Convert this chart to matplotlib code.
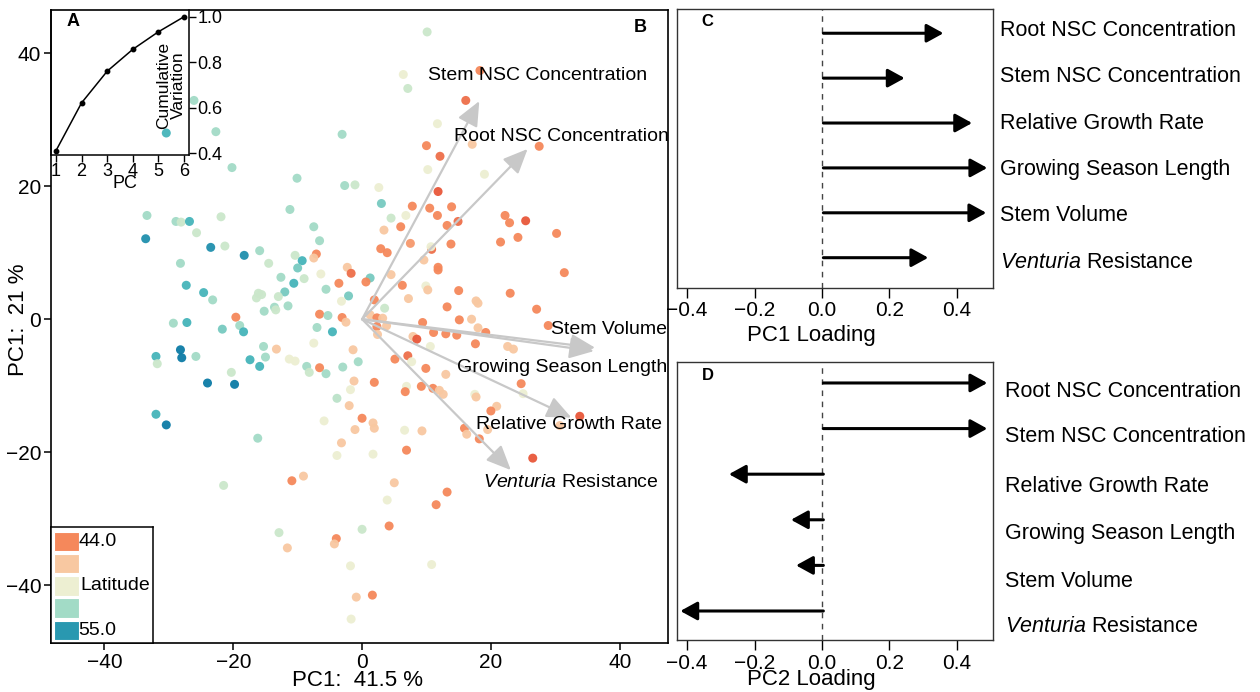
import numpy as np
import matplotlib
matplotlib.use('Agg')
import matplotlib.pyplot as plt
from matplotlib.colors import LinearSegmentedColormap
from matplotlib.patches import Rectangle

plt.rcParams['font.family'] = ['Liberation Sans', 'DejaVu Sans']
plt.rcParams['mathtext.fontset'] = 'custom'
plt.rcParams['mathtext.rm'] = 'Liberation Sans'
plt.rcParams['mathtext.it'] = 'Liberation Sans:italic'
plt.rcParams['axes.unicode_minus'] = True

# ---------------- data ----------------
# Panel A: cumulative variation explained
pc_index = [1, 2, 3, 4, 5, 6]
cum_variation = [0.412, 0.622, 0.761, 0.857, 0.934, 1.0]

# Panel B: PCA scores (PC1, PC2) and latitude of each tree
pts = [
    (-26.1, 32.9, 51.6), (-30.4, 28.0, 53.6), (-22.7, 28.2, 51.6), (-3.1, 27.8, 51.6),
    (-20.2, 22.8, 51.6), (-10.1, 21.2, 51.6), (-2.7, 20.1, 51.6), (-1.1, 20.2, 50.6),
    (-11.2, 16.5, 51.6), (-33.4, 15.6, 51.6), (-28.9, 14.7, 51.6), (-28.1, 14.6, 50.6),
    (-26.8, 14.7, 53.6), (-21.9, 15.4, 50.6), (-25.7, 13.0, 50.6), (-33.6, 12.1, 54.5),
    (-23.5, 10.8, 54.5), (-21.3, 11.0, 50.6), (-18.3, 9.6, 54.5), (-15.9, 10.3, 51.6),
    (-7.5, 13.9, 51.6), (-6.6, 11.8, 51.6), (-7.1, 9.8, 45.2), (-7.5, 9.2, 47.5),
    (-10.4, 9.6, 50.6), (-9.3, 8.8, 53.6), (-10.0, 7.7, 52.6), (-14.5, 8.4, 50.6),
    (-28.2, 8.4, 51.6), (-12.6, 6.3, 51.6), (-9.0, 6.1, 50.6), (-6.4, 6.8, 49.5),
    (-2.3, 7.8, 47.5), (-1.7, 6.9, 44.6), (-3.6, 5.4, 45.2), (-27.3, 5.1, 53.6),
    (-24.6, 4.0, 53.6), (-23.2, 2.9, 51.6), (-10.6, 5.4, 53.6), (-12.0, 4.1, 52.6),
    (-13.0, 3.4, 50.6), (-16.1, 3.9, 50.6), (-15.6, 3.7, 50.6), (-16.4, 3.2, 50.6),
    (-11.5, 2.0, 51.6), (-13.6, 1.8, 51.6), (-13.4, 1.4, 50.6), (-15.2, 1.2, 51.6),
    (-5.6, 4.5, 51.6), (-2.1, 3.5, 52.6), (-3.2, 2.7, 49.5), (-19.6, 0.3, 45.2),
    (-6.6, 0.75, 45.2), (-5.3, 0.55, 51.6), (-3.1, 0.25, 45.2),
    (-29.3, -0.6, 51.6), (-27.2, -0.5, 53.6), (-21.7, -1.5, 52.6), (-19.0, -0.95, 51.6),
    (-18.4, -1.9, 53.6), (-28.2, -4.6, 55.0), (-28.0, -5.8, 55.0), (-32.0, -5.6, 53.6),
    (-31.8, -6.7, 50.6), (-25.8, -5.6, 51.6), (-24.0, -9.6, 55.0), (-19.8, -9.8, 55.0),
    (-20.3, -8.0, 50.6), (-17.4, -6.1, 53.6), (-15.3, -4.1, 51.6), (-15.0, -5.7, 51.6),
    (-15.9, -7.1, 53.6), (-13.3, -4.5, 47.5), (-11.3, -6.0, 49.5), (-10.4, -6.3, 49.5),
    (-8.6, -7.1, 51.6), (-8.2, -8.0, 50.6), (-6.6, -7.3, 45.2), (-5.6, -8.2, 51.6),
    (-7.5, -3.6, 49.5), (-7.0, -1.25, 51.6), (-4.6, -1.9, 53.6), (-2.5, -0.45, 47.5),
    (-1.4, -4.6, 47.5), (-3.0, -7.2, 51.6), (-0.6, -6.4, 51.6), (-1.25, -9.3, 47.5),
    (-1.8, -10.6, 49.5), (-3.9, -11.9, 51.0), (-2.0, -13.0, 47.5), (0.0, -14.9, 45.2),
    (-5.9, -15.3, 49.5), (-1.1, -16.6, 47.5), (-3.2, -18.6, 47.5), (-3.9, -20.5, 49.5),
    (-32.0, -14.3, 53.6), (-30.4, -15.9, 55.0), (-16.2, -17.9, 51.6), (-21.5, -25.0, 50.6),
    (-10.9, -24.3, 45.2), (-9.1, -23.6, 47.5), (-12.9, -32.1, 50.6), (-11.6, -34.4, 47.5),
    (-4.0, -33.0, 45.2), (-4.3, -33.8, 47.5), (0.0, -31.6, 50.6), (-1.8, -37.1, 49.5),
    (-0.9, -41.8, 47.5), (-1.7, -45.1, 49.5),
    (10.1, 43.2, 50.6), (6.4, 36.8, 49.5), (7.1, 34.7, 50.6), (18.3, 37.4, 45.2),
    (16.1, 32.9, 44.6), (11.7, 29.4, 49.5), (10.0, 26.1, 45.2), (12.1, 24.5, 44.6),
    (17.1, 26.3, 47.5), (27.5, 26.0, 45.2), (10.2, 22.5, 49.5), (19.0, 21.8, 49.5),
    (2.6, 19.8, 49.5), (11.8, 19.2, 44.0), (3.0, 17.4, 52.6), (7.8, 17.0, 45.2),
    (10.5, 16.7, 45.2), (13.9, 16.9, 45.2), (11.7, 15.6, 45.2), (4.5, 15.2, 50.6),
    (6.8, 15.6, 49.5), (6.0, 13.9, 45.2), (3.4, 13.4, 47.5), (13.2, 14.1, 45.2),
    (14.9, 14.7, 44.6), (22.2, 15.6, 45.2), (22.9, 14.5, 45.2), (25.4, 14.8, 44.0),
    (30.2, 12.9, 45.2), (21.5, 11.6, 45.2), (24.2, 12.3, 45.2), (2.9, 10.6, 45.2),
    (3.9, 10.0, 45.2), (7.5, 11.4, 45.8), (10.8, 10.5, 44.6), (10.7, 10.9, 49.5),
    (13.8, 11.3, 45.2), (9.6, 8.9, 47.5), (11.8, 7.8, 45.2), (11.8, 7.4, 45.2),
    (4.5, 6.7, 47.5), (1.25, 6.2, 52.6), (0.6, 5.6, 45.2), (6.25, 5.1, 45.2),
    (9.9, 5.0, 49.5), (10.2, 4.4, 47.5), (7.2, 3.1, 47.5), (15.0, 4.3, 45.2),
    (23.0, 3.9, 45.2), (31.4, 7.0, 45.2), (1.9, 2.9, 45.2), (3.5, 1.65, 50.6),
    (1.25, 0.65, 47.5), (13.2, 1.85, 45.2), (17.7, 2.75, 47.5), (18.0, 2.4, 47.5),
    (27.1, 1.5, 45.2), (2.3, 0.2, 45.2), (3.2, 0.15, 47.5), (15.1, -0.1, 45.2),
    (17.0, 0.0, 47.5),
    (3.8, -1.0, 47.5), (2.3, -1.1, 45.2), (2.4, -2.3, 47.5), (9.4, -0.5, 45.2),
    (18.0, -1.3, 47.5), (19.2, -2.0, 45.2), (11.1, -2.0, 45.2), (13.0, -2.2, 45.2),
    (14.7, -2.4, 45.2), (7.9, -2.6, 47.5), (8.5, -3.0, 44.0), (17.6, -3.7, 45.2),
    (10.6, -4.1, 49.5), (22.6, -4.1, 47.5), (23.5, -4.5, 47.5), (28.9, -0.95, 45.2),
    (5.1, -6.0, 45.2), (7.1, -5.5, 44.6), (7.7, -6.4, 49.5), (9.9, -7.4, 45.2),
    (13.0, -8.3, 47.5), (1.9, -9.5, 45.2), (6.9, -10.1, 49.5), (6.7, -10.9, 45.2),
    (9.2, -10.1, 45.2), (11.0, -10.4, 45.2), (12.0, -10.7, 47.5), (12.6, -11.3, 47.5),
    (17.5, -11.3, 49.5), (17.7, -11.7, 47.5), (24.7, -9.7, 45.2), (25.0, -11.2, 49.5),
    (20.9, -13.1, 47.5), (20.0, -13.8, 45.2), (33.8, -14.6, 44.0), (30.7, -16.0, 47.5),
    (15.9, -16.4, 45.2), (16.25, -17.3, 47.5), (19.5, -16.6, 47.5), (18.2, -18.0, 45.2),
    (1.7, -15.6, 47.5), (1.9, -16.4, 47.5), (6.6, -16.7, 49.5), (9.3, -16.8, 47.5),
    (1.7, -20.3, 49.5), (6.9, -19.7, 45.2), (26.5, -20.9, 44.0), (5.0, -24.6, 47.5),
    (13.2, -26.0, 45.2), (11.5, -27.9, 45.2), (3.9, -27.2, 49.5), (4.2, -31.1, 45.2),
    (10.8, -36.9, 49.5), (1.6, -41.5, 45.2),
]
pc1_score = [p[0] for p in pts]
pc2_score = [p[1] for p in pts]
latitude = [p[2] for p in pts]

# Biplot loading vectors (scaled, in score units)
biplot_traits = ['Stem NSC Concentration', 'Root NSC Concentration', 'Stem Volume',
                 'Growing Season Length', 'Relative Growth Rate', r'$\mathit{Venturia}$ Resistance']
vec_pc1 = [18.2, 25.7, 36.2, 36.0, 32.5, 23.1]
vec_pc2 = [32.8, 25.6, -4.3, -4.8, -14.8, -22.7]

# Panels C & D: loadings
traits = ['Root NSC Concentration', 'Stem NSC Concentration', 'Relative Growth Rate',
          'Growing Season Length', 'Stem Volume', r'$\mathit{Venturia}$ Resistance']
pc1_loading = [0.36, 0.245, 0.445, 0.49, 0.487, 0.315]
pc2_loading = [0.49, 0.49, -0.276, -0.092, -0.077, -0.42]

# ---------------- layout ----------------
W, H = 1260, 692
fig = plt.figure(figsize=(W / 100, H / 100), dpi=100)


def box(l, t, r, b):
    return [l / W, 1 - b / H, (r - l) / W, (b - t) / H]


lat_nodes = [(44.0, '#e8573a'), (45.2, '#f58a5c'), (47.5, '#f8c8a1'), (49.5, '#eeefd2'),
             (50.6, '#cbe7cb'), (51.6, '#a2dbc6'), (52.6, '#78cbc0'), (53.6, '#46b5ba'),
             (55.0, '#0c7ba6')]
cmap = LinearSegmentedColormap.from_list(
    'lat', [((v - 44.0) / 11.0, c) for v, c in lat_nodes])

# ---- Panel B ----
axB = fig.add_axes(box(51, 10, 668, 643))
axB.scatter(pc1_score, pc2_score, c=latitude, cmap=cmap, vmin=44, vmax=55,
            s=42, linewidths=0, alpha=0.95, zorder=2)
label_pos = [(10.25, 36.7), (14.3, 27.4), (29.3, -1.5), (14.75, -7.2), (17.7, -15.9), (18.8, -24.6)]
for vx, vy, name, (lx, ly) in zip(vec_pc1, vec_pc2, biplot_traits, label_pos):
    axB.annotate('', xy=(vx, vy), xytext=(0, 0),
                 arrowprops=dict(arrowstyle='-|>,head_length=0.75,head_width=0.33',
                                 color='#c8c8c8', lw=1.6, shrinkA=0, shrinkB=0,
                                 mutation_scale=20), zorder=3)
    axB.text(lx, ly, name, ha='left', va='center', fontsize=14, zorder=4)
axB.set_xlim(-48.3, 47.5)
axB.set_ylim(-48.7, 46.5)
axB.set_xticks([-40, -20, 0, 20, 40])
axB.set_yticks([-40, -20, 0, 20, 40])
axB.tick_params(direction='out', length=5, width=1.1, labelsize=15, pad=2)
for s in axB.spines.values():
    s.set_linewidth(1.2)
axB.text(640.5 / W, 1 - 27.5 / H, 'B', transform=fig.transFigure, fontsize=13,
         fontweight='bold', ha='center', va='center')
fig.text(358 / W, 1 - 680 / H, 'PC1:  41.5 %', fontsize=16, ha='center', va='center')
fig.text(19 / W, 1 - 320 / H, 'PC1:  21 %', fontsize=16, ha='center', va='center',
         rotation=90)

# ---- Panel A inset ----
axA = fig.add_axes(box(51, 10, 189, 155), facecolor='none')
axA.plot(pc_index, cum_variation, color='black', lw=1.1, marker='o', ms=3.2)
axA.set_xlim(0.805, 6.2)
axA.set_ylim(0.393, 1.03)
axA.spines['top'].set_visible(False)
axA.yaxis.tick_right()
axA.set_yticks([0.4, 0.6, 0.8, 1.0])
axA.set_yticklabels(['0.4', '0.6', '0.8', '1.0'])
axA.set_xticks(pc_index)
axA.tick_params(direction='out', length=5, width=1, labelsize=13, pad=1)
for s in axA.spines.values():
    s.set_linewidth(1.1)
fig.text(124.5 / W, 1 - 184 / H, 'PC', fontsize=13, ha='center', va='center')
fig.text(171 / W, 1 - 85 / H, 'Cumulative\nVariation', fontsize=12.5, ha='center',
         va='center', rotation=90, linespacing=0.95)
fig.text(73.3 / W, 1 - 21.5 / H, 'A', fontsize=13, fontweight='bold', ha='center', va='center')

# ---- Legend ----
axL = fig.add_axes(box(51, 527, 153, 643), facecolor='white')
axL.set_xlim(0, 102)
axL.set_ylim(116, 0)
axL.set_xticks([])
axL.set_yticks([])
for s in axL.spines.values():
    s.set_linewidth(1.1)
legend_lat = [45.2, 47.5, 49.5, 51.6, 54.3]
for i, v in enumerate(legend_lat):
    axL.add_patch(Rectangle((3, 4.7 + i * 22.25), 25, 19.5, facecolor=cmap((v - 44) / 11),
                            edgecolor='white', lw=0.8))
axL.text(27.3, 4.7 + 9.75, '44.0', fontsize=14, va='center', ha='left')
axL.text(29.7, 4.7 + 2 * 22.25 + 9.75, 'Latitude', fontsize=14, va='center', ha='left')
axL.text(27.3, 4.7 + 4 * 22.25 + 9.75, '55.0', fontsize=14, va='center', ha='left')

# ---- Panels C & D ----
rows = [6, 5, 4, 3, 2, 1]


def loading_panel(rect, loads, ylim, label_y, label_dx, letter, letter_xy, xlabel, xlabel_xy, tickpad):
    ax = fig.add_axes(rect)
    ax.axvline(0, color='#444444', lw=1, ls=(0, (4, 4)), zorder=1)
    for r, v in zip(rows, loads):
        ax.annotate('', xy=(v, r), xytext=(0.004, r),
                    arrowprops=dict(arrowstyle='-|>,head_length=0.6,head_width=0.33',
                                    color='black', lw=2.2, shrinkA=0, shrinkB=0,
                                    mutation_scale=17), zorder=3)
    for ly, name in zip(label_y, traits):
        ax.annotate(name, xy=(1, ly), xycoords=('axes fraction', 'data'),
                    xytext=(label_dx, 0), textcoords='offset points',
                    ha='left', va='center', fontsize=15.5, annotation_clip=False)
    ax.set_xlim(-0.43, 0.507)
    ax.set_ylim(*ylim)
    ax.set_yticks([])
    ax.set_xticks([-0.4, -0.2, 0.0, 0.2, 0.4])
    ax.set_xticklabels(['\u22120.4', '\u22120.2', '0.0', '0.2', '0.4'])
    ax.tick_params(direction='out', length=7, width=1, labelsize=15, pad=tickpad)
    for s in ax.spines.values():
        s.set_linewidth(1)
        s.set_color('#333333')
    fig.text(letter_xy[0] / W, 1 - letter_xy[1] / H, letter, fontsize=12,
             fontweight='bold', ha='center', va='center')
    fig.text(xlabel_xy[0] / W, 1 - xlabel_xy[1] / H, xlabel, fontsize=16,
             ha='center', va='center')
    return ax


loading_panel(box(677, 9, 993, 288), pc1_loading, (0.325, 6.54),
              [6.07, 5.03, 4.0, 2.96, 1.95, 0.9], 5, 'C', (707, 22),
              'PC1 Loading', (811, 335), 2)
loading_panel(box(677, 362, 993, 640), pc2_loading, (0.364, 6.46),
              [5.82, 4.82, 3.74, 2.71, 1.65, 0.65], 8.5, 'D', (708, 375),
              'PC2 Loading', (811, 680), 3)

fig.savefig('out.png', dpi=100)
